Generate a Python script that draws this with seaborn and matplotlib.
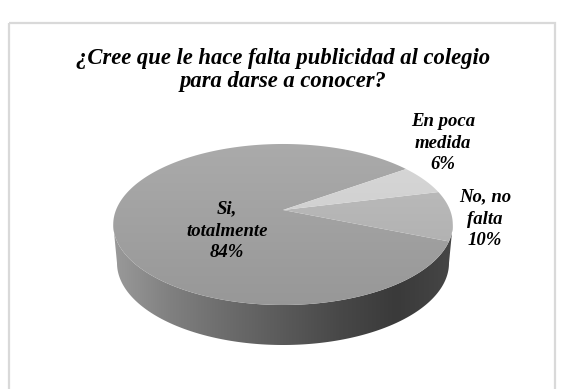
import numpy as np
import matplotlib
matplotlib.use("Agg")
import matplotlib.pyplot as plt
from matplotlib.colors import LinearSegmentedColormap
from matplotlib.patches import Polygon, Rectangle
import seaborn as sns

# Survey answers, counter-clockwise from the upper-right edge of the large slice
answers = ["Si,\ntotalmente", "No, no\nfalta", "En poca\nmedida"]
shares = [84, 10, 6]
title = "¿Cree que le hace falta publicidad al colegio\npara darse a conocer?"
top_shades = [("#ababab", "#979797"), ("#c0c0c0", "#a9a9a9"), ("#d8d8d8", "#c8c8c8")]
side_shades = ["#9a9a9a", "#808080", "#6c6c6c", "#5a5a5a", "#484848", "#3a3a3a", "#464646"]

sns.set_theme(style="white")
plt.rcParams["font.family"] = ["Liberation Serif", "DejaVu Serif"]

W, H = 561, 389
fig = plt.figure(figsize=(W / 100, H / 100), dpi=100, facecolor="white")
ax = fig.add_axes([0, 0, 1, 1])
ax.set_xlim(0, W)
ax.set_ylim(H, 0)
ax.axis("off")

# Tilted disc: a circle seen in perspective, with its centre above the ellipse's centre
CX, CY, BX, BY, KP = 283, 210, 167, 77.9, 0.18
START = 35.5
# Lower rim of the cylinder wall, slightly narrower than the top face
LOW_CY, LOW_RX, LOW_RY = 263, 166, 82


def project(theta_deg):
    t = np.radians(theta_deg)
    w = 1 + KP * np.sin(t)
    return CX + BX * np.cos(t) / w, CY - BY * np.sin(t) / w


def gradient(cmap, horizontal, extent, clip):
    g = np.linspace(0, 1, 256)
    img = g[None, :] if horizontal else g[:, None]
    im = ax.imshow(img, cmap=cmap, extent=extent, aspect="auto", zorder=2, interpolation="bilinear")
    ax.set_xlim(0, W)
    ax.set_ylim(H, 0)
    im.set_clip_path(clip)


# Cylinder wall under the front half of the disc
upper = project(np.linspace(190, 350, 240))
phi = np.radians(np.linspace(180, 360, 240))
lower_x = CX + LOW_RX * np.cos(phi)
lower_y = LOW_CY - LOW_RY * np.sin(phi)
wall_pts = np.column_stack([np.r_[upper[0], lower_x[::-1]], np.r_[upper[1], lower_y[::-1]]])
wall = Polygon(wall_pts, closed=True, fc="none", ec="none", transform=ax.transData)
ax.add_patch(wall)
gradient(LinearSegmentedColormap.from_list("wall", side_shades), True, (113, 453, 360, 200), wall)

# Top face, one wedge per answer
edges = START + np.cumsum([0] + shares) * 3.6
for a, b, shade in zip(edges[:-1], edges[1:], top_shades):
    arc = project(np.linspace(a, b, 200))
    pts = np.column_stack([np.r_[CX, arc[0]], np.r_[CY, arc[1]]])
    wedge = Polygon(pts, closed=True, fc="none", ec="none", transform=ax.transData)
    ax.add_patch(wedge)
    gradient(LinearSegmentedColormap.from_list("top", list(shade)), False, (100, 470, 310, 140), wedge)

# Chart frame; its lower edge lies past the bottom of the figure
ax.add_patch(Rectangle((9.5, 23), 546, 380, fc="none", ec="#d9d9d9", lw=1.6, zorder=1))

style = dict(ha="center", va="center", style="italic", weight="bold", color="black", zorder=4)
ax.text(283, 70, title, fontsize=16.3, linespacing=1.18, **style)
label_xy = [(227, 231), (485, 219), (443, 143)]
for name, share, (x, y) in zip(answers, shares, label_xy):
    ax.text(x, y, f"{name}\n{share}%", fontsize=13.5, linespacing=1.38, **style)

fig.savefig("out.png", dpi=100)
